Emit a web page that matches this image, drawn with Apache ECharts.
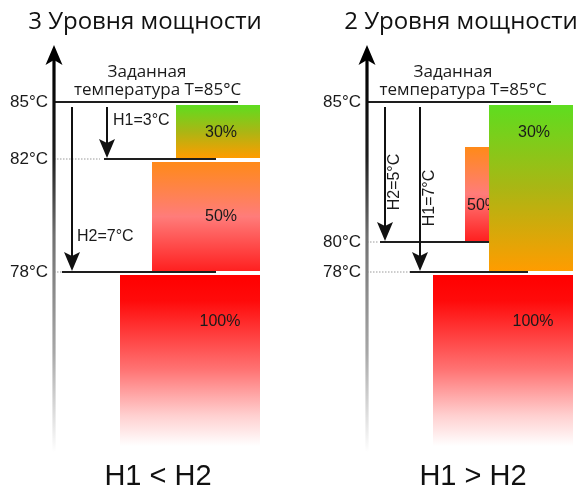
<!DOCTYPE html>
<html><head><meta charset="utf-8">
<script src="https://cdn.jsdelivr.net/npm/echarts@6/dist/echarts.min.js"></script>
<style>html,body{margin:0;padding:0;background:#fff}#c{width:581px;height:495px}</style>
</head><body><div id="c"></div>
<script>
// ---------- DATA ----------
const panelTitles = ['3 Уровня мощности', '2 Уровня мощности'];
const panelConclusions = ['H1 < H2', 'H1 > H2'];
const setpointText = ['Заданная', 'температура T=85°C'];

// Left panel: 3 power levels
const leftTemps = [85, 82, 78];
const leftLevelPos = [0, 57, 170];        // schematic (not to scale) position of each temperature level
const leftPowers = ['30%', '50%', '100%'];
const leftBarTop = [0, 57, 170];
const leftBarBottom = [57, 170, 345];
const leftHystNames = ['H1=3°C', 'H2=7°C'];
const leftHystEnd = [57, 170];

// Right panel: 2 power levels
const rightTemps = [85, 80, 78];
const rightLevelPos = [0, 140, 170];
const rightPowers = ['50%', '30%', '100%'];
const rightBarTop = [42, 0, 170];
const rightBarBottom = [140, 170, 345];
const rightHystNames = ['H2=5°C', 'H1=7°C'];
const rightHystEnd = [140, 170];

// ---------- LAYOUT / STYLE ----------
const FONT = '"Liberation Sans", Arial, sans-serif';
const FONT2 = '"Open Sans", sans-serif';
const TXT = '#1a1a1a';
const barLeft = {'30%': 122, '50%': 98, '100%': 66};
const barRight = 206;
const G = echarts.graphic.LinearGradient;
const grads = {
  '30%': () => new G(0,0,0,1,[{offset:0,color:'#5edd1f'},{offset:0.5,color:'#aab614'},{offset:1,color:'#ff9c00'}]),
  '50%': () => new G(0,0,0,1,[{offset:0,color:'#ff8a18'},{offset:0.5,color:'#ff7c7a'},{offset:1,color:'#ff2020'}]),
  '100%': () => new G(0,0,0,1,[{offset:0,color:'#ff0000'},{offset:0.15,color:'#ff0a0a'},{offset:0.55,color:'#ff7272'},{offset:0.82,color:'#ffcfcf'},{offset:1,color:'#ffffff'}])
};

const panels = [
  {
    temps:leftTemps, levelPos:leftLevelPos, powers:leftPowers, barTop:leftBarTop, barBottom:leftBarBottom,
    hystNames:leftHystNames, hystEnd:leftHystEnd,
    labelPos:{'30%':[167,31,'center'],'50%':[167,115,'center'],'100%':[166,220,'center']},
    lines:[[0,0,184],[46,50,162],[8,8,162]],
    hystX:[53,18], hystLabel:[[59,19,0,'left'],[23,135,0,'left']],
    setpoint:[[93,-30],[103.5,-12]],
    grid:{left:54, top:42, width:220, height:420}, titleX:145, conclX:158
  },
  {
    temps:rightTemps, levelPos:rightLevelPos, powers:rightPowers, barTop:rightBarTop, barBottom:rightBarBottom,
    hystNames:rightHystNames, hystEnd:rightHystEnd,
    labelPos:{'30%':[167,31,'center'],'50%':[100,104,'left'],'100%':[166,220,'center']},
    lines:[[0,0,184],[11,13,122],[43,43,161]],
    hystX:[18,53], hystLabel:[[28,80,1,'center'],[63,96,1,'center']],
    setpoint:[[86,-30],[96,-12]],
    grid:{left:367, top:42, width:214, height:420}, titleX:461, conclX:473
  }
];

function seriesFor(p) {
  const P = panels[p];
  const base = {type:'custom', xAxisIndex:p, yAxisIndex:p, silent:true, clip:false};
  return [
    // bars + their labels
    Object.assign({}, base, {
      z: 2,
      data: P.powers.map((w,i) => [barLeft[w], P.barTop[i], barRight, P.barBottom[i]]),
      renderItem(params, api) {
        const w = P.powers[params.dataIndex];
        const a = api.coord([api.value(0), api.value(1)]);
        const b = api.coord([api.value(2), api.value(3)]);
        const lp = P.labelPos[w];
        const lc = api.coord([lp[0], lp[1]]);
        return {type:'group', children:[
          {type:'rect', shape:{x:a[0], y:a[1]+3, width:b[0]-a[0], height:b[1]-a[1]-4}, style:{fill:grads[w]()}},
          {type:'text', x:lc[0], y:lc[1], style:{text:w, font:'16px '+FONT, fill:TXT, align:lp[2], verticalAlign:'middle'}}
        ]};
      }
    }),
    // temperature level lines
    Object.assign({}, base, {
      z: 3,
      data: P.lines.map((l,i) => [l[0], l[1], l[2], P.levelPos[i]]),
      renderItem(params, api) {
        const y = api.coord([0, api.value(3)])[1];
        const x0 = api.coord([0, 0])[0];
        const xd = api.coord([api.value(0), 0])[0];
        const xs = api.coord([api.value(1), 0])[0];
        const xe = api.coord([api.value(2), 0])[0];
        const ch = [];
        if (xd > x0) ch.push({type:'line', shape:{x1:x0, y1:y, x2:xd, y2:y}, style:{stroke:'#9a9a9a', lineWidth:1, lineDash:[1.5,1.5]}});
        ch.push({type:'line', shape:{x1:xs, y1:y, x2:xe, y2:y}, style:{stroke:'#1e1e1e', lineWidth:2}});
        return {type:'group', children:ch};
      }
    }),
    // hysteresis arrows
    Object.assign({}, base, {
      z: 4,
      data: P.hystEnd.map((e,i) => [P.hystX[i], 5, e]),
      renderItem(params, api) {
        const i = params.dataIndex;
        const s = api.coord([api.value(0), api.value(1)]);
        const t = api.coord([api.value(0), api.value(2)]);
        const x = s[0], tip = t[1] - 1;
        const hl = P.hystLabel[i];
        const lc = api.coord([hl[0], hl[1]]);
        return {type:'group', children:[
          {type:'line', shape:{x1:x, y1:s[1], x2:x, y2:tip-12}, style:{stroke:'#111', lineWidth:2}},
          {type:'polygon', shape:{points:[[x,tip],[x+8,tip-19],[x,tip-15],[x-8,tip-19]]}, style:{fill:'#111'}},
          {type:'text', x:lc[0], y:lc[1], rotation: hl[2] ? Math.PI/2 : 0,
           style:{text:P.hystNames[i], font:'16px '+FONT, fill:TXT, align:hl[3], verticalAlign:'middle'}}
        ]};
      }
    }),
    // vertical temperature axis with arrow
    Object.assign({}, base, {
      z: 5,
      data: [[0, -57, 350]],
      renderItem(params, api) {
        const t = api.coord([api.value(0), api.value(1)]);
        const b = api.coord([api.value(0), api.value(2)]);
        const x = t[0];
        return {type:'group', children:[
          {type:'rect', shape:{x:x-1.6, y:t[1]+12, width:3.2, height:b[1]-t[1]-12},
           style:{fill:new G(0,0,0,1,[{offset:0,color:'#000'},{offset:0.25,color:'#1c1c1c'},{offset:0.45,color:'#707070'},{offset:0.75,color:'#a8a8a8'},{offset:1,color:'#ffffff'}])}},
          {type:'polygon', shape:{points:[[x,t[1]],[x+8.5,t[1]+20],[x,t[1]+15],[x-8.5,t[1]+20]]}, style:{fill:'#000'}}
        ]};
      }
    }),
    // setpoint annotation
    Object.assign({}, base, {
      z: 6,
      data: P.setpoint.map(s => [s[0], s[1]]),
      renderItem(params, api) {
        const c = api.coord([api.value(0), api.value(1)]);
        return {type:'text', x:c[0], y:c[1], style:{text:setpointText[params.dataIndex], font:'17px '+FONT2, fill:TXT, align:'center', verticalAlign:'middle'}};
      }
    })
  ];
}

const chart = echarts.init(document.getElementById('c'), null, {renderer:'canvas'});
chart.setOption({
  animation:false,
  backgroundColor:'#fff',
  grid: panels.map(P => P.grid),
  xAxis: panels.map((P,i) => ({type:'value', gridIndex:i, min:0, max:P.grid.width, show:false})),
  yAxis: panels.map((P,i) => ({
    type:'value', gridIndex:i, min:-60, max:360, inverse:true,
    axisLine:{show:false}, axisTick:{show:false}, splitLine:{show:false},
    axisLabel:{customValues:P.levelPos, margin:6, fontSize:17, fontFamily:FONT, color:TXT,
      formatter: v => P.temps[P.levelPos.indexOf(v)] + '°C'}
  })),
  graphic: panels.flatMap((P,i) => [
    {type:'text', x:P.titleX, y:22, style:{text:panelTitles[i], font:'24px '+FONT2, fill:'#111', align:'center', verticalAlign:'middle'}},
    {type:'text', x:P.conclX, y:477, style:{text:panelConclusions[i], font:'29px '+FONT, fill:'#111', align:'center', verticalAlign:'middle'}}
  ]),
  series: [].concat(seriesFor(0), seriesFor(1))
});
</script></body></html>
